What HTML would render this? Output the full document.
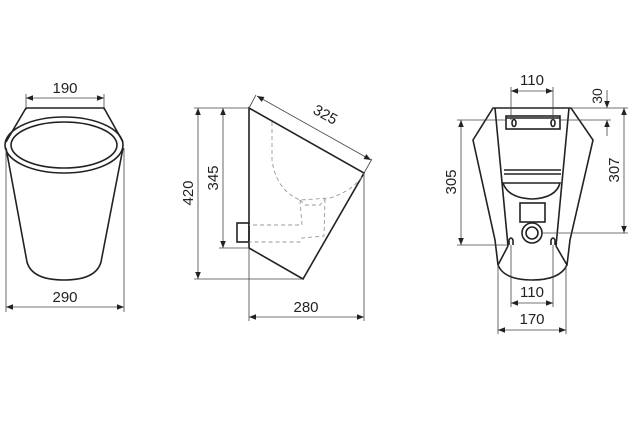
<!DOCTYPE html>
<html><head><meta charset="utf-8"><style>
html,body{margin:0;padding:0;background:#fff}
svg{display:block}
text{font-family:"Liberation Sans",sans-serif;font-size:15px;fill:#222}
.o{fill:none;stroke:#222;stroke-width:1.6}
.t{fill:none;stroke:#444;stroke-width:0.8}
.d{fill:none;stroke:#999;stroke-width:0.9;stroke-dasharray:4 3}
.a{fill:#222}
</style></head><body>
<svg width="638" height="424" viewBox="0 0 638 424">
<defs>
<marker id="ar" viewBox="0 0 10 10" refX="10" refY="5" markerWidth="9" markerHeight="7" orient="auto-start-reverse" markerUnits="userSpaceOnUse"><path d="M0,1 L10,5 L0,9z" class="a"/></marker>
</defs>
<!-- FRONT VIEW -->
<line class="t" x1="26" y1="98" x2="104" y2="98" marker-start="url(#ar)" marker-end="url(#ar)"/>
<line class="t" x1="26" y1="94" x2="26" y2="110"/><line class="t" x1="104" y1="94" x2="104" y2="110"/>
<text x="65" y="93" text-anchor="middle">190</text>
<path class="o" d="M26,108 L104,108 L123,142 M26,108 L6,142"/>
<ellipse class="o" cx="64" cy="145" rx="59" ry="28"/>
<ellipse class="o" cx="64" cy="145" rx="53" ry="23" stroke-width="1.2"/>
<path class="o" d="M6,148 L27,262 Q32,280 64,280 Q96,280 101,262 L123,148"/>
<line class="t" x1="6" y1="148" x2="6" y2="312"/><line class="t" x1="124" y1="148" x2="124" y2="312"/>
<line class="t" x1="6" y1="307" x2="124" y2="307" marker-start="url(#ar)" marker-end="url(#ar)"/>
<text x="65" y="302" text-anchor="middle">290</text>
<!-- SIDE VIEW -->
<path class="o" d="M249,108 L364,173 L303,279 L249,248 Z"/>
<rect class="o" x="237" y="223" width="12" height="19" stroke-width="1.3"/>
<path class="d" d="M272,122 L272,160 Q276,190 300,200 L330,198 Q355,190 364,173"/>
<path class="d" d="M300,200 L302,225 L249,225 M325,199 L324,236 L302,238 L300,242 L249,242"/>
<path class="d" d="M300,200 L305,205 L320,205 L325,199"/>
<line class="t" x1="194" y1="108" x2="249" y2="108"/>
<line class="t" x1="194" y1="279" x2="303" y2="279"/>
<line class="t" x1="219" y1="248" x2="249" y2="248"/>
<line class="t" x1="198" y1="108" x2="198" y2="279" marker-start="url(#ar)" marker-end="url(#ar)"/>
<line class="t" x1="223" y1="108" x2="223" y2="248" marker-start="url(#ar)" marker-end="url(#ar)"/>
<text transform="translate(193,193) rotate(-90)" text-anchor="middle">420</text>
<text transform="translate(218,178) rotate(-90)" text-anchor="middle">345</text>
<line class="t" x1="249" y1="108" x2="256" y2="95"/><line class="t" x1="364" y1="173" x2="372" y2="159"/>
<line class="t" x1="257" y1="96" x2="371" y2="160" marker-start="url(#ar)" marker-end="url(#ar)"/>
<text transform="translate(323,119) rotate(29)" text-anchor="middle">325</text>
<line class="t" x1="249" y1="248" x2="249" y2="321"/><line class="t" x1="364" y1="173" x2="364" y2="321"/>
<line class="t" x1="249" y1="317" x2="364" y2="317" marker-start="url(#ar)" marker-end="url(#ar)"/>
<text x="306" y="312" text-anchor="middle">280</text>
<!-- BACK VIEW -->
<path class="o" d="M493,108 L571,108 L593,140 L570,240 L567,265 Q560,280 532,280 Q504,280 498,265 L495,240 L473,140 Z"/>
<path class="o" d="M495,108 L508,246 M569,108 L556,246" stroke-width="1.2"/>
<path class="o" d="M498,265 L508,246 M567,265 L556,246" stroke-width="1"/>
<rect class="o" x="506" y="116" width="54" height="13" stroke-width="1.1"/>
<line class="o" x1="506" y1="118" x2="560" y2="118" stroke-width="2"/>
<ellipse class="o" cx="514" cy="123" rx="2" ry="3.5" stroke-width="1"/>
<ellipse class="o" cx="553" cy="123" rx="2" ry="3.5" stroke-width="1"/>
<line class="o" x1="504" y1="170" x2="561" y2="170" stroke-width="1.1"/>
<line class="o" x1="504" y1="174" x2="561" y2="174" stroke-width="0.8"/>
<path class="o" d="M503,183 L560,183 Q556,198 532,199 Q508,198 503,183Z" stroke-width="1.1"/>
<rect class="o" x="520" y="203" width="25" height="19" stroke-width="1.1"/>
<circle class="o" cx="532" cy="233" r="10" stroke-width="1.4"/>
<circle class="o" cx="532" cy="233" r="6" stroke-width="1"/>
<path class="o" d="M509,245 L509,240 Q511,236 513,240 L513,245" stroke-width="1"/>
<path class="o" d="M551,245 L551,240 Q553,236 555,240 L555,245" stroke-width="1"/>
<!-- dims -->
<line class="t" x1="511" y1="87" x2="511" y2="120"/><line class="t" x1="553" y1="87" x2="553" y2="120"/>
<line class="t" x1="511" y1="91" x2="553" y2="91" marker-start="url(#ar)" marker-end="url(#ar)"/>
<text x="532" y="85" text-anchor="middle">110</text>
<line class="t" x1="571" y1="108" x2="628" y2="108"/>
<line class="t" x1="560" y1="120" x2="611" y2="120"/>
<line class="t" x1="607" y1="90" x2="607" y2="108" marker-end="url(#ar)"/>
<line class="t" x1="607" y1="136" x2="607" y2="120" marker-end="url(#ar)"/>
<text transform="translate(602,96) rotate(-90)" text-anchor="middle" style="font-size:14px">30</text>
<line class="t" x1="542" y1="233" x2="628" y2="233"/>
<line class="t" x1="624" y1="108" x2="624" y2="233" marker-start="url(#ar)" marker-end="url(#ar)"/>
<text transform="translate(619,170) rotate(-90)" text-anchor="middle">307</text>
<line class="t" x1="457" y1="120" x2="506" y2="120"/>
<line class="t" x1="457" y1="245" x2="509" y2="245"/>
<line class="t" x1="461" y1="120" x2="461" y2="245" marker-start="url(#ar)" marker-end="url(#ar)"/>
<text transform="translate(456,182) rotate(-90)" text-anchor="middle">305</text>
<line class="t" x1="511" y1="245" x2="511" y2="307"/><line class="t" x1="553" y1="245" x2="553" y2="307"/>
<line class="t" x1="511" y1="303" x2="553" y2="303" marker-start="url(#ar)" marker-end="url(#ar)"/>
<text x="532" y="297" text-anchor="middle">110</text>
<line class="t" x1="498" y1="265" x2="498" y2="334"/><line class="t" x1="566" y1="265" x2="566" y2="334"/>
<line class="t" x1="498" y1="330" x2="566" y2="330" marker-start="url(#ar)" marker-end="url(#ar)"/>
<text x="532" y="324" text-anchor="middle">170</text>
</svg>
</body></html>
